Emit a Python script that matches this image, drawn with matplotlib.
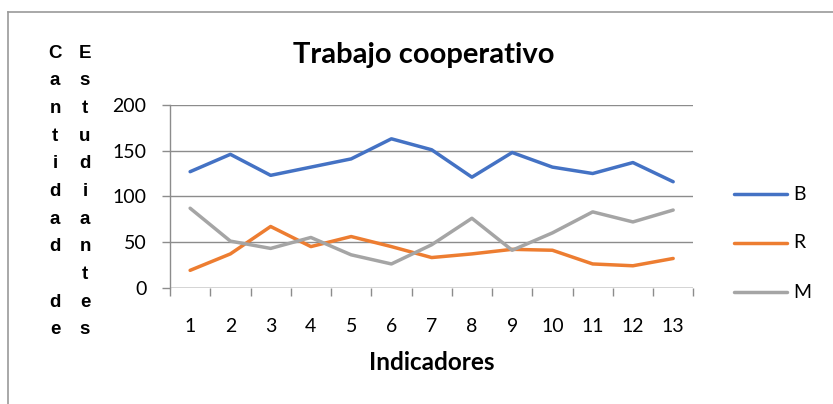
import matplotlib
matplotlib.use("Agg")
import matplotlib.pyplot as plt
from matplotlib.lines import Line2D
import numpy as np

categories = [str(i) for i in range(1, 14)]
B = [127, 146, 123, 132, 141, 163, 151, 121, 148, 132, 125, 137, 116]
R = [19, 37, 67, 45, 56, 45, 33, 37, 42, 41, 26, 24, 32]
M = [87, 51, 43, 55, 36, 26, 47, 76, 41, 60, 83, 72, 85]
series_names = ["B", "R", "M"]
colors = ["#4472C4", "#ED7D31", "#A5A5A5"]
yticks = [0, 50, 100, 150, 200]
ylabel_col1 = list("Cantidad") + [""] + list("de")
ylabel_col2 = list("Estudiantes")
title = "Trabajo cooperativo"
xlabel = "Indicadores"

W, H = 833, 404
fig = plt.figure(figsize=(W / 100, H / 100), dpi=100)

def fx(px):
    return px / W

def fy(py):
    return 1 - py / H

ax = fig.add_axes([fx(170), fy(287.7), fx(693.3) - fx(170), fy(105) - fy(287.7)])
x = np.arange(1, len(categories) + 1)
lines = []
for vals, name, c in zip([B, R, M], series_names, colors):
    ln, = ax.plot(x, vals, color=c, lw=2.5, solid_capstyle="round", solid_joinstyle="round", label=name)
    lines.append(ln)

ax.set_xlim(0.5, len(categories) + 0.5)
ax.set_ylim(0, 200)
ax.set_yticks(yticks)
ax.set_yticklabels([str(v) for v in yticks])
ax.set_xticks(x)
ax.set_xticklabels(categories)
ax.set_xticks(np.arange(0.5, len(categories) + 1, 1), minor=True)
grid_c = "#8C8C8C"
ax.grid(axis="y", color=grid_c, lw=1.0)
ax.set_axisbelow(True)
for s in ["top", "right", "bottom"]:
    ax.spines[s].set_visible(False)
ax.spines["left"].set_color(grid_c)
ax.spines["left"].set_linewidth(1.0)
ax.axhline(0, color=grid_c, lw=1.0, zorder=1)
ax.tick_params(axis="x", which="major", length=0, pad=22, labelsize=14)
ax.tick_params(axis="x", which="minor", length=6, color=grid_c, width=1.0)
ax.tick_params(axis="y", length=6, color=grid_c, width=1.0, pad=11, labelsize=14)
for lab in ax.get_xticklabels() + ax.get_yticklabels():
    lab.set_fontfamily("Lato")
    lab.set_color("black")

fig.text(fx(424), fy(55), title, ha="center", va="center", fontsize=21,
         fontweight="bold", family="Lato")
fig.text(fx(431.7), fy(362), xlabel, ha="center", va="center", fontsize=17.5,
         fontweight="bold", family="Lato")

for k, ch in enumerate(ylabel_col1):
    if ch:
        fig.text(fx(55), fy(53 + 27.7 * k), ch, ha="center", va="center",
                 fontsize=13.5, fontweight="bold", family="Liberation Sans")
for k, ch in enumerate(ylabel_col2):
    fig.text(fx(85), fy(53 + 27.7 * k), ch, ha="center", va="center",
             fontsize=13.5, fontweight="bold", family="Liberation Sans")

# legend drawn manually in figure coords
leg_y = [194, 243, 292]
for ln, yy, name in zip(lines, leg_y, series_names):
    fig.add_artist(Line2D([fx(734), fx(787)], [fy(yy), fy(yy)], color=ln.get_color(),
                          lw=2.5, solid_capstyle="round"))
    fig.text(fx(793), fy(yy), name, ha="left", va="center", fontsize=14, family="Lato")

# chart area border (top and left visible)
border_c = "#9A9A9A"
fig.add_artist(Line2D([fx(8), 1], [fy(12), fy(12)], color=border_c, lw=1.2))
fig.add_artist(Line2D([fx(8), fx(8)], [fy(12), 0], color=border_c, lw=1.2))

fig.savefig("out.png", dpi=100)
